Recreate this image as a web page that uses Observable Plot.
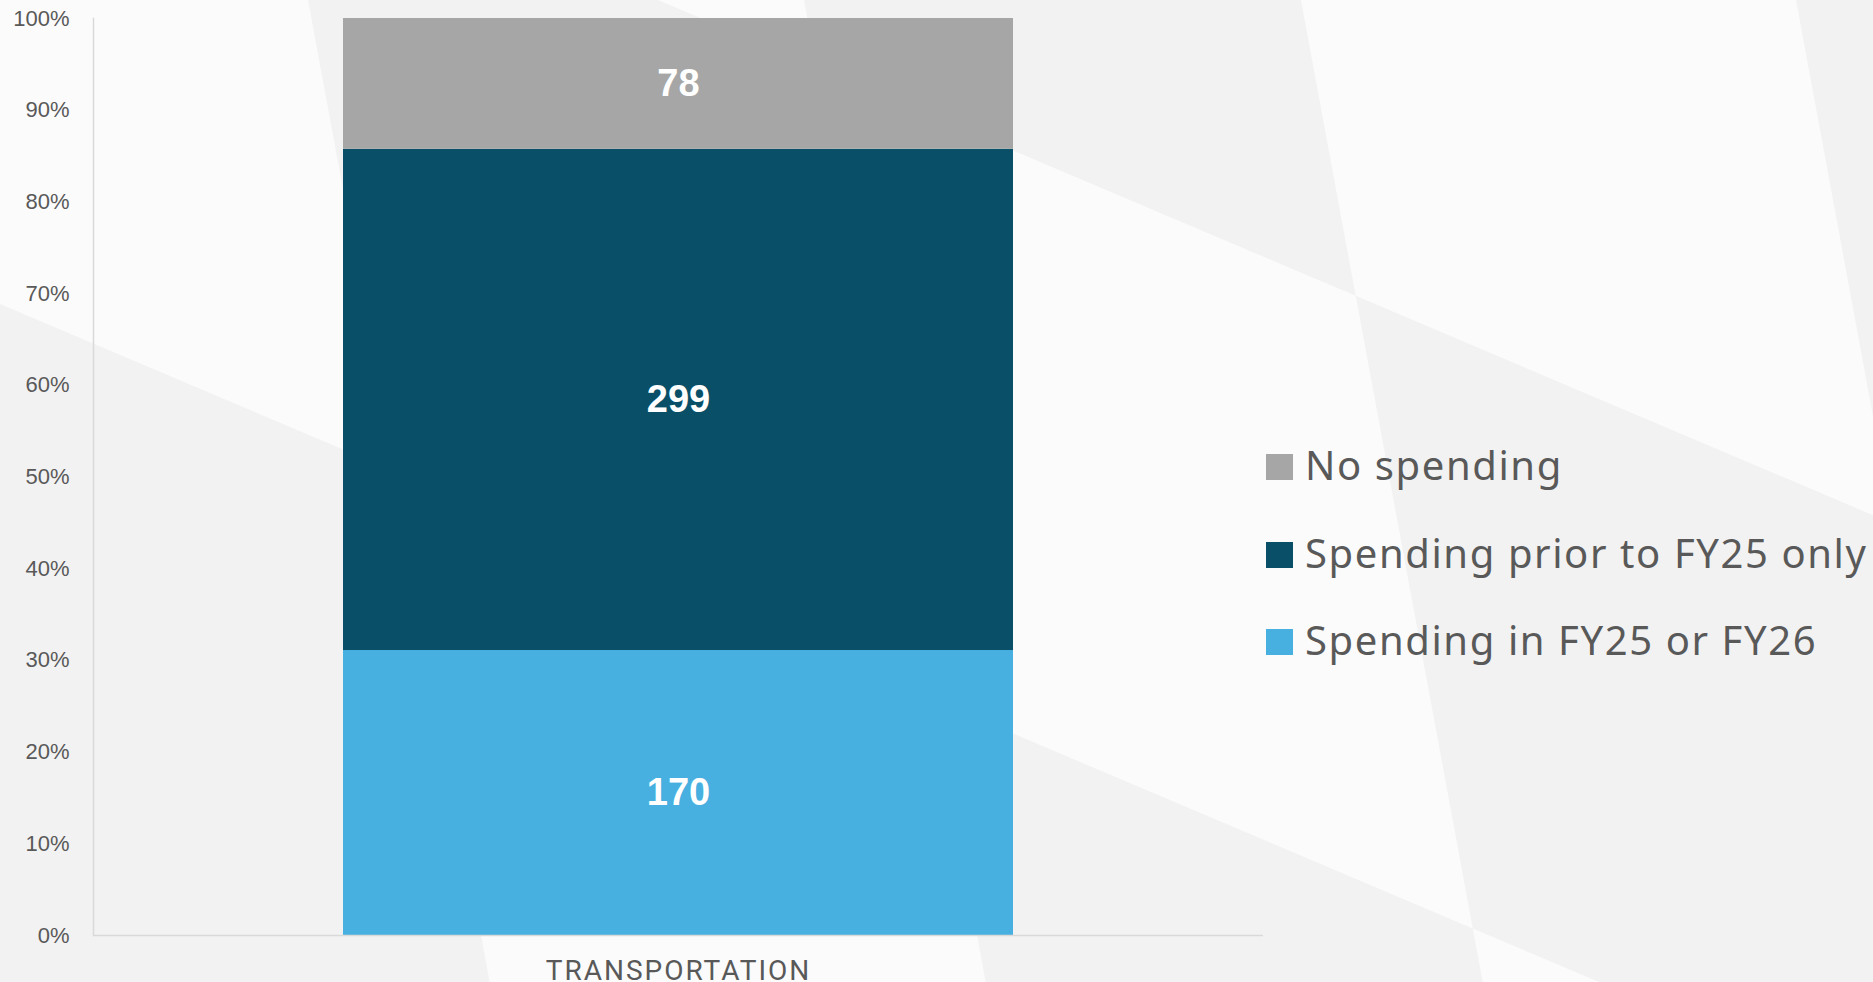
<!DOCTYPE html>
<html><head><meta charset="utf-8">
<script src="https://cdn.jsdelivr.net/npm/d3@7"></script>
<script src="https://cdn.jsdelivr.net/npm/@observablehq/plot@0.6"></script>
<style>
html,body{margin:0;padding:0;background:#f2f2f2;}
#wrap{position:relative;width:1873px;height:982px;overflow:hidden;}
#bg{position:absolute;left:0;top:0;}
#chart{position:absolute;left:0;top:0;}
#legend{position:absolute;left:1266px;top:0;font-family:"Noto Sans";color:#595959;font-size:40px;letter-spacing:1.6px;}
.item{position:absolute;left:0;white-space:nowrap;line-height:1;}
.sw{display:inline-block;width:27px;height:26px;margin-right:12px;vertical-align:baseline;}
g[aria-label="x-axis tick label"] text{letter-spacing:2px;}
</style></head><body>
<div id="wrap"><svg id="bg" width="1873" height="982"></svg><div id="chart"></div><div id="legend"></div></div>
<script>
// ---- data ----
const categories = ["TRANSPORTATION"];
const seriesNames = ["Spending in FY25 or FY26", "Spending prior to FY25 only", "No spending"];
const seriesValues = [170, 299, 78];
const seriesColors = ["#47b0e0", "#094f68", "#a6a6a6"];
const yTicks = [0, 0.1, 0.2, 0.3, 0.4, 0.5, 0.6, 0.7, 0.8, 0.9, 1];
const legendOrder = ["No spending", "Spending prior to FY25 only", "Spending in FY25 or FY26"];

const data = seriesNames.map((s, i) => ({category: categories[0], series: s, value: seriesValues[i]}));

// ---- decorative background (skewed checker) ----
(function drawBg() {
  const W = 1873, H = 982;
  const s = 0.185, k = 0.424;
  const A = [-188, 308, 804, 1301, 1796, 2292];
  const B = [-862, -279, 304, 887];
  const P = (a, b) => { const x = (a + s * b) / (1 - s * k); return [x, b + k * x]; };
  const svg = d3.select("#bg");
  svg.append("rect").attr("width", W).attr("height", H).attr("fill", "#f2f2f2");
  for (let c = 0; c < A.length - 1; c++) {
    for (let r = 0; r < B.length - 1; r++) {
      if ((c + r) % 2 === 1) {
        const pts = [P(A[c], B[r]), P(A[c + 1], B[r]), P(A[c + 1], B[r + 1]), P(A[c], B[r + 1])];
        svg.append("polygon").attr("points", pts.map(p => p.join(",")).join(" ")).attr("fill", "#fbfbfb");
      }
    }
  }
})();

// ---- chart ----
const chart = Plot.plot({
  width: 1873,
  height: 982,
  marginLeft: 93,
  marginRight: 610,
  marginTop: 18,
  marginBottom: 47,
  style: {background: "transparent", fontFamily: "Liberation Sans", color: "#595959", maxWidth: "none"},
  x: {domain: categories, padding: 0.2717},
  y: {domain: [0, 1]},
  color: {domain: seriesNames, range: seriesColors},
  marks: [
    Plot.barY(data, Plot.stackY({x: "category", y: "value", fill: "series", offset: "normalize", order: null})),
    Plot.text(data, Plot.stackY({
      x: "category", y: "value", z: "series", offset: "normalize", order: null,
      text: d => String(d.value), fill: "white", fontSize: 38, fontWeight: "bold"
    })),
    Plot.axisY({ticks: yTicks, tickFormat: d3.format(".0%"), tickSize: 0, tickPadding: 24, fontSize: 22, fill: "#595959", label: null}),
    Plot.axisX({tickSize: 0, tickPadding: 25, fontSize: 28, fontFamily: "Roboto", fill: "#595959", label: null}),
    Plot.ruleY([0], {stroke: "#d9d9d9", strokeWidth: 1.5}),
    Plot.frame({anchor: "left", stroke: "#d9d9d9", strokeWidth: 1.5})
  ]
});
document.getElementById("chart").appendChild(chart);

// ---- legend ----
const baselines = [481, 568.5, 656];
const legend = d3.select("#legend");
legendOrder.forEach((name, i) => {
  const item = legend.append("div").attr("class", "item").style("top", (baselines[i] - 40 * 0.888) + "px");
  item.append("span").attr("class", "sw").style("background", seriesColors[seriesNames.indexOf(name)]);
  item.append("span").text(name);
});
</script>
</body></html>
